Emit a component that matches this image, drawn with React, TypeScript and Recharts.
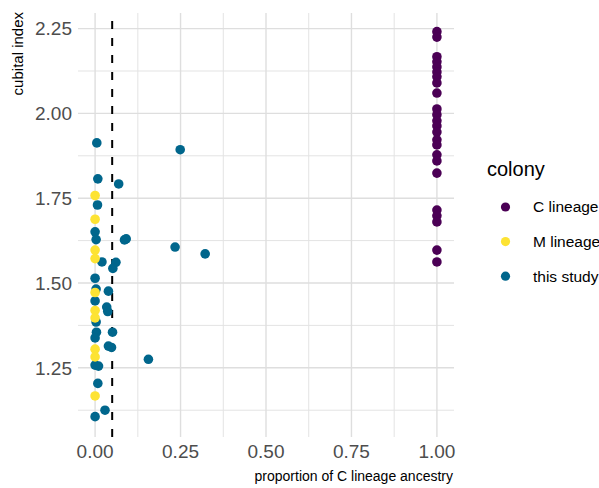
import React from "react";
import {
  ScatterChart, Scatter, XAxis, YAxis, CartesianGrid, ReferenceLine,
} from "recharts";

// cubital index vs proportion of C lineage ancestry, coloured by colony

const colonyNames = ["C lineage", "M lineage", "this study"];
const colonyColors = ["#4B0055", "#FDE333", "#00668C"];

// C lineage reference colonies (all ancestry = 1)
const cLineageIndex = [
  2.241, 2.225, 2.167, 2.152, 2.137, 2.122, 2.108, 2.090, 2.060, 2.013, 1.996, 1.978,
  1.963, 1.945, 1.922, 1.907, 1.878, 1.860, 1.824, 1.715, 1.698, 1.680, 1.597, 1.562,
];

// M lineage reference colonies (all ancestry = 0)
const mLineageIndex = [1.758, 1.688, 1.597, 1.572, 1.472, 1.419, 1.397, 1.305, 1.282, 1.167];

// colonies from this study
const studyAncestry = [
  0.005, 0.008, 0.069, 0.007, 0.0, 0.003, 0.086, 0.091, 0.020, 0.061, 0.052, 0.234,
  0.322, 0.249, 0.0, 0.003, 0.039, 0.0, 0.034, 0.037, 0.003, 0.004, 0.051, 0.0,
  0.039, 0.048, 0.0, 0.010, 0.156, 0.008, 0.029, 0.0,
];
const studyIndex = [
  1.913, 1.807, 1.792, 1.730, 1.651, 1.628, 1.627, 1.630, 1.562, 1.561, 1.543, 1.606,
  1.586, 1.893, 1.514, 1.482, 1.476, 1.447, 1.429, 1.416, 1.385, 1.355, 1.355, 1.338,
  1.314, 1.310, 1.258, 1.255, 1.275, 1.204, 1.125, 1.106,
];

const xTicks = [0, 0.25, 0.5, 0.75, 1];
const yTicks = [1.25, 1.5, 1.75, 2, 2.25];
const xMinor = [0.125, 0.375, 0.625, 0.875];
const yMinor = [1.125, 1.375, 1.625, 1.875, 2.125];
const cutoff = 0.05;

const cData = cLineageIndex.map((y) => ({ x: 1, y }));
const mData = mLineageIndex.map((y) => ({ x: 0, y }));
const studyData = studyAncestry.map((x, i) => ({ x, y: studyIndex[i] }));

const FONT = "'Liberation Sans', Arial, sans-serif";

const dot = (color: string) => (p: any) => (
  <circle cx={p.cx} cy={p.cy} r={4.8} fill={color} />
);

export default function App() {
  return (
    <div style={{ position: "absolute", left: 0, top: 0, width: 599, height: 488, background: "#fff", fontFamily: FONT }}>
      <ScatterChart width={599} height={488} margin={{ top: 13, right: 145, bottom: 0, left: 0 }}>
        <CartesianGrid
          stroke="#E3E3E3" strokeWidth={1}
          horizontalValues={yMinor} verticalValues={xMinor}
        />
        <CartesianGrid
          stroke="#DEDEDE" strokeWidth={1.4}
          horizontalValues={yTicks} verticalValues={xTicks}
        />
        <XAxis
          type="number" dataKey="x" domain={[-0.05, 1.05]} ticks={xTicks}
          allowDataOverflow axisLine={false} tickLine={false} height={51}
          tickFormatter={(v: number) => v.toFixed(2)}
          tick={{ fontSize: 19, fill: "#4D4D4D", fontFamily: FONT }}
        />
        <YAxis
          type="number" dataKey="y" domain={[1.046, 2.296]} ticks={yTicks}
          allowDataOverflow axisLine={false} tickLine={false} width={78}
          tickSize={6} tickMargin={0}
          tickFormatter={(v: number) => v.toFixed(2)}
          tick={{ fontSize: 19, fill: "#4D4D4D", fontFamily: FONT }}
        />
        <ReferenceLine x={cutoff} stroke="#000" strokeWidth={2} strokeDasharray="8 9" />
        <Scatter name={colonyNames[2]} data={studyData} shape={dot(colonyColors[2])} isAnimationActive={false} />
        <Scatter name={colonyNames[1]} data={mData} shape={dot(colonyColors[1])} isAnimationActive={false} />
        <Scatter name={colonyNames[0]} data={cData} shape={dot(colonyColors[0])} isAnimationActive={false} />
      </ScatterChart>

      {/* axis titles and legend */}
      <svg width={599} height={488} style={{ position: "absolute", left: 0, top: 0, pointerEvents: "none" }} fontFamily={FONT}>
        <text x={453} y={481} textAnchor="end" fontSize={14} fill="#000">
          proportion of C lineage ancestry
        </text>
        <text transform="translate(23,12) rotate(-90)" textAnchor="end" fontSize={15} fill="#000">
          cubital index
        </text>
        <text x={487} y={176} fontSize={20} fill="#000">colony</text>
        {colonyNames.map((name, i) => (
          <g key={name}>
            <circle cx={505.5} cy={207 + i * 34.6} r={4.6} fill={colonyColors[i]} />
            <text x={533} y={207 + i * 34.6} dy="0.35em" fontSize={15.5} fill="#000">{name}</text>
          </g>
        ))}
      </svg>
    </div>
  );
}
